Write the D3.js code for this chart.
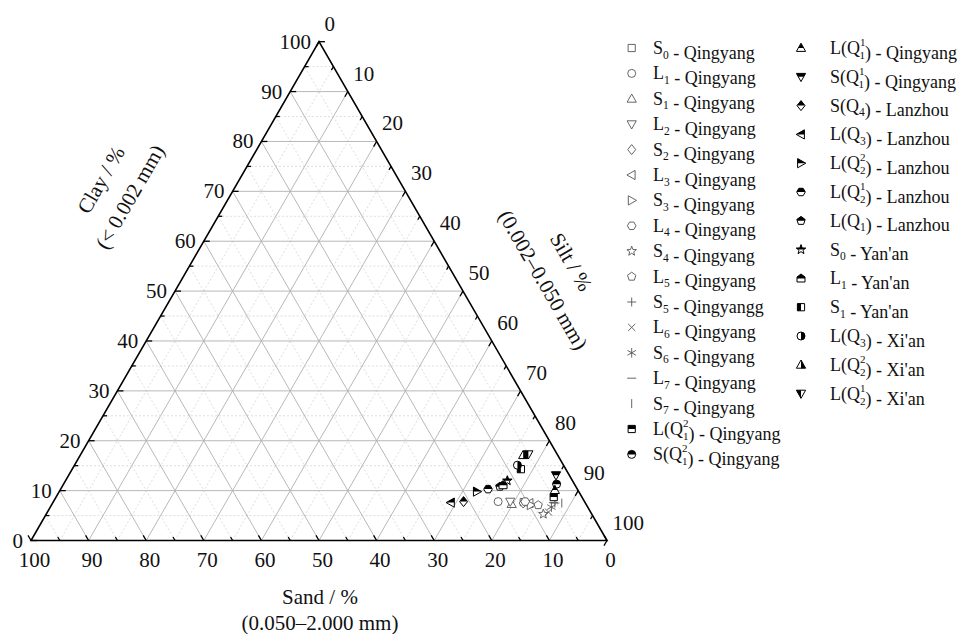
<!DOCTYPE html>
<html>
<head>
<meta charset="utf-8">
<script src="https://cdn.jsdelivr.net/npm/d3@7"></script>
<style>
  body { margin: 0; background: #fff; }
  text { font-family: "Liberation Serif", "Times New Roman", serif; fill: #111; }
</style>
</head>
<body>
<div id="chart"></div>
<script>
// ---- data: one point per sample (clay / silt / sand, %) ----
var labels = [
  "S_{0} - Qingyang", "L_{1} - Qingyang", "S_{1} - Qingyang", "L_{2} - Qingyang",
  "S_{2} - Qingyang", "L_{3} - Qingyang", "S_{3} - Qingyang", "L_{4} - Qingyang",
  "S_{4} - Qingyang", "L_{5} - Qingyang", "S_{5} - Qingyangg", "L_{6} - Qingyang",
  "S_{6} - Qingyang", "L_{7} - Qingyang", "S_{7} - Qingyang",
  "L(Q_{1}^{2}) - Qingyang", "S(Q_{1}^{2}) - Qingyang",
  "L(Q_{1}^{1}) - Qingyang", "S(Q_{1}^{1}) - Qingyang", "S(Q_{4}) - Lanzhou",
  "L(Q_{3}) - Lanzhou", "L(Q_{2}^{2}) - Lanzhou", "L(Q_{2}^{1}) - Lanzhou",
  "L(Q_{1}) - Lanzhou", "S_{0} - Yan'an", "L_{1} - Yan'an", "S_{1} - Yan'an",
  "L(Q_{3}) - Xi'an", "L(Q_{2}^{2}) - Xi'an", "L(Q_{2}^{1}) - Xi'an"
];
var clay = [7.7, 7.8, 7.3, 7.8, 7.5, 7.5, 7.1, 7.8, 5.3, 7.1, 7.5, 5.7, 6.7, 7.6, 7.5,
            8.7, 11.3, 10.1, 13.1, 7.8, 7.6, 9.8, 10.3, 10.8, 12.0, 11.1, 14.3, 15.1, 17.1, 17.3];
var silt = [81.7, 77.2, 79.8, 79.3, 81.7, 82.8, 83.2, 81.9, 86.3, 84.5, 87.2, 87.0, 87.0, 86.9, 88.4,
            86.4, 85.6, 85.9, 84.6, 71.2, 69.1, 72.5, 74.2, 76.0, 76.7, 76.4, 77.9, 76.9, 76.9, 77.7];
var sand = [10.6, 15.0, 12.9, 12.9, 10.8, 9.7, 9.7, 10.3, 8.4, 8.4, 5.3, 7.3, 6.3, 5.5, 4.1,
            4.9, 3.1, 4.0, 2.3, 21.0, 23.3, 17.7, 15.5, 13.2, 11.3, 12.5, 7.8, 8.0, 6.0, 5.0];

// marker style per sample
var shapes = ["square", "circle", "up", "down", "diamond", "left", "right", "hexagon",
              "star", "pentagon", "plus", "cross", "asterisk", "hbar", "vbar",
              "square", "circle",
              "up", "down", "diamond", "left", "right", "hexagon", "pentagon",
              "star", "house", "square", "circle", "up", "down"];
var fills = ["open", "open", "open", "open", "open", "open", "open", "open",
             "open", "open", "open", "open", "open", "open", "open",
             "top", "top",
             "top", "top", "top", "top", "top", "top", "top",
             "top", "top", "left", "right", "right", "left"];

var tickValues = d3.range(0, 101, 10);

var width = 978, height = 634;

var svg = d3.select("#chart").append("svg")
    .attr("width", width)
    .attr("height", height);

// clay -> vertical, (silt + clay/2) -> horizontal
var yScale = d3.scaleLinear().domain([0, 100]).range([540.5, 41.7]);
var xScale = d3.scaleLinear().domain([0, 100]).range([31, 607]);

function px(c, t) { return xScale(t + c / 2); }
function py(c) { return yScale(c); }

// half-fill clips, in marker-local coords
var defs = svg.append("defs");
var clips = { top: [-10, -10, 20, 10], bottom: [-10, 0, 20, 10], left: [-10, -10, 10, 20], right: [0, -10, 10, 20] };
Object.keys(clips).forEach(function (k) {
    var r = clips[k];
    defs.append("clipPath").attr("id", "clip-" + k)
        .append("rect").attr("x", r[0]).attr("y", r[1]).attr("width", r[2]).attr("height", r[3]);
});

// ---- grid ----
var grid = svg.append("g").attr("class", "grid");
d3.range(5, 100, 5).forEach(function (v) {
    var major = v % 10 === 0;
    var segs = [
        [[v, 0], [v, 100 - v]],           // clay = v
        [[0, 100 - v], [100 - v, 0]],     // sand = v
        [[0, v], [100 - v, v]]            // silt = v
    ];
    segs.forEach(function (s) {
        grid.append("line")
            .attr("x1", px(s[0][0], s[0][1])).attr("y1", py(s[0][0]))
            .attr("x2", px(s[1][0], s[1][1])).attr("y2", py(s[1][0]))
            .attr("stroke", major ? "#b0b0b0" : "#cfcfcf")
            .attr("stroke-width", major ? 0.9 : 0.7)
            .attr("stroke-dasharray", major ? null : "2,2");
    });
});

// ---- frame ----
svg.append("path")
    .attr("d", "M" + px(0, 0) + "," + py(0) + "L" + px(0, 100) + "," + py(0) + "L" + px(100, 0) + "," + py(100) + "Z")
    .attr("fill", "none")
    .attr("stroke", "#000")
    .attr("stroke-width", 1.6);

// ---- ticks (inward, along grid direction) ----
var ticks = svg.append("g").attr("stroke", "#000").attr("stroke-width", 1.3);
d3.range(0, 101, 5).forEach(function (v) {
    var len = v % 10 === 0 ? 6 : 4;
    // clay axis (left)
    var x0 = px(v, 0), y0 = py(v);
    ticks.append("line").attr("x1", x0).attr("y1", y0).attr("x2", x0 + len).attr("y2", y0);
    // sand axis (bottom)
    x0 = px(0, 100 - v); y0 = py(0);
    ticks.append("line").attr("x1", x0).attr("y1", y0).attr("x2", x0 - len * 0.5).attr("y2", y0 - len * 0.866);
    // silt axis (right)
    x0 = px(100 - v, v); y0 = py(100 - v);
    ticks.append("line").attr("x1", x0).attr("y1", y0).attr("x2", x0 - len * 0.5).attr("y2", y0 + len * 0.866);
});

// ---- tick labels ----
var lab = svg.append("g").style("font-size", "21px");
tickValues.forEach(function (v) {
    lab.append("text")
        .attr("x", px(v, 0) - 8).attr("y", py(v))
        .attr("text-anchor", "end").attr("dominant-baseline", "central")
        .text(v);
    lab.append("text")
        .attr("x", px(0, 100 - v) + 3.5).attr("y", py(0) + 19)
        .attr("text-anchor", "middle").attr("dominant-baseline", "central")
        .text(v);
    lab.append("text")
        .attr("x", px(100 - v, v) + 5.5).attr("y", py(100 - v) - 18)
        .attr("text-anchor", "start").attr("dominant-baseline", "central")
        .text(v);
});

// ---- axis titles ----
function title(x, y, rot, str) {
    svg.append("text")
        .attr("transform", "translate(" + x + "," + y + ") rotate(" + rot + ")")
        .attr("text-anchor", "middle").attr("dominant-baseline", "central")
        .style("font-size", "21px")
        .text(str);
}
title(101, 180, -60, "Clay / %");
title(130, 197, -60, "(< 0.002 mm)");
title(571, 262, 60, "Silt / %");
title(543, 280, 60, "(0.002\u20130.050 mm)");
title(320, 597, 0, "Sand / %");
title(320, 623, 0, "(0.050\u20132.000 mm)");

// ---- markers ----
function poly(pts) { return "M" + pts.map(function (p) { return p[0].toFixed(2) + "," + p[1].toFixed(2); }).join("L") + "Z"; }
function ring(n, r, a0) {
    return d3.range(n).map(function (i) {
        var a = a0 + i * 2 * Math.PI / n;
        return [r * Math.cos(a), r * Math.sin(a)];
    });
}
function shapePath(shape) {
    switch (shape) {
        case "square": return poly([[-3.6, -3.6], [3.6, -3.6], [3.6, 3.6], [-3.6, 3.6]]);
        case "circle": return "M4,0A4,4 0 1,1 -4,0A4,4 0 1,1 4,0Z";
        case "up": return poly([[0, -4.8], [4.6, 3.4], [-4.6, 3.4]]);
        case "down": return poly([[0, 4.8], [4.6, -3.4], [-4.6, -3.4]]);
        case "diamond": return poly([[0, -5], [4, 0], [0, 5], [-4, 0]]);
        case "left": return poly([[-4.8, 0], [3.4, -4.6], [3.4, 4.6]]);
        case "right": return poly([[4.8, 0], [-3.4, -4.6], [-3.4, 4.6]]);
        case "hexagon": return poly(ring(6, 4.3, 0));
        case "pentagon": return poly(ring(5, 4.4, -Math.PI / 2));
        case "house": return poly([[0, -4.4], [4, -1.4], [4, 3.6], [-4, 3.6], [-4, -1.4]]);
        case "star":
            return poly(d3.range(10).map(function (i) {
                var r = i % 2 ? 2.1 : 5, a = -Math.PI / 2 + i * Math.PI / 5;
                return [r * Math.cos(a), r * Math.sin(a)];
            }));
        case "plus": return "M-4.5,0H4.5M0,-4.5V4.5";
        case "cross": return "M-3.6,-3.6L3.6,3.6M-3.6,3.6L3.6,-3.6";
        case "asterisk": return "M0,-4.8V4.8M-4.2,-2.4L4.2,2.4M-4.2,2.4L4.2,-2.4";
        case "hbar": return "M-4.5,0H4.5";
        case "vbar": return "M0,-4.5V4.5";
    }
}
var lineShapes = { plus: 1, cross: 1, asterisk: 1, hbar: 1, vbar: 1 };

function drawMarker(parent, shape, fill, x, y) {
    var g = parent.append("g").attr("transform", "translate(" + x + "," + y + ")");
    var d = shapePath(shape);
    if (fill === "open") {
        g.append("path").attr("d", d)
            .attr("fill", lineShapes[shape] ? "none" : "#fff")
            .attr("stroke", "#555").attr("stroke-width", 0.9);
    } else {
        g.append("path").attr("d", d).attr("fill", "#fff");
        g.append("path").attr("d", d).attr("fill", "#000").attr("clip-path", "url(#clip-" + fill + ")");
        g.append("path").attr("d", d).attr("fill", "none").attr("stroke", "#000").attr("stroke-width", 1);
    }
}

var pts = svg.append("g").attr("class", "points");
labels.forEach(function (name, i) {
    drawMarker(pts, shapes[i], fills[i], px(clay[i], silt[i]), py(clay[i]));
});

// ---- legend ----
// "Q_{1}^{2}" -> stacked sub/sup
function richText(sel, str) {
    var re = /_\{([^}]*)\}(\^\{([^}]*)\})?/g, last = 0, m;
    while ((m = re.exec(str)) !== null) {
        if (m.index > last) sel.append("tspan").text(str.slice(last, m.index));
        if (m[3] !== undefined) {
            sel.append("tspan").attr("dy", -8).style("font-size", "11px").text(m[3]);
            sel.append("tspan").attr("dx", -5.5).attr("dy", 13).style("font-size", "11px").text(m[1]);
            sel.append("tspan").attr("dy", -5).text("");
        } else {
            sel.append("tspan").attr("dy", 4.5).style("font-size", "11.5px").text(m[1]);
            sel.append("tspan").attr("dy", -4.5).text("");
        }
        last = re.lastIndex;
    }
    if (last < str.length) sel.append("tspan").text(str.slice(last));
}

var legend = svg.append("g").attr("class", "legend").style("font-size", "18px");
labels.forEach(function (name, i) {
    var col = i < 17 ? 0 : 1;
    var row = col ? i - 17 : i;
    var sx = col ? 801 : 631.7;
    var tx = col ? 830 : 653;
    var y = col ? 48 + row * 28.8 : 48 + row * 25.4;
    drawMarker(legend, shapes[i], fills[i], sx, y);
    var t = legend.append("text").attr("x", tx).attr("y", y + 6);
    richText(t, name);
});
</script>
</body>
</html>
